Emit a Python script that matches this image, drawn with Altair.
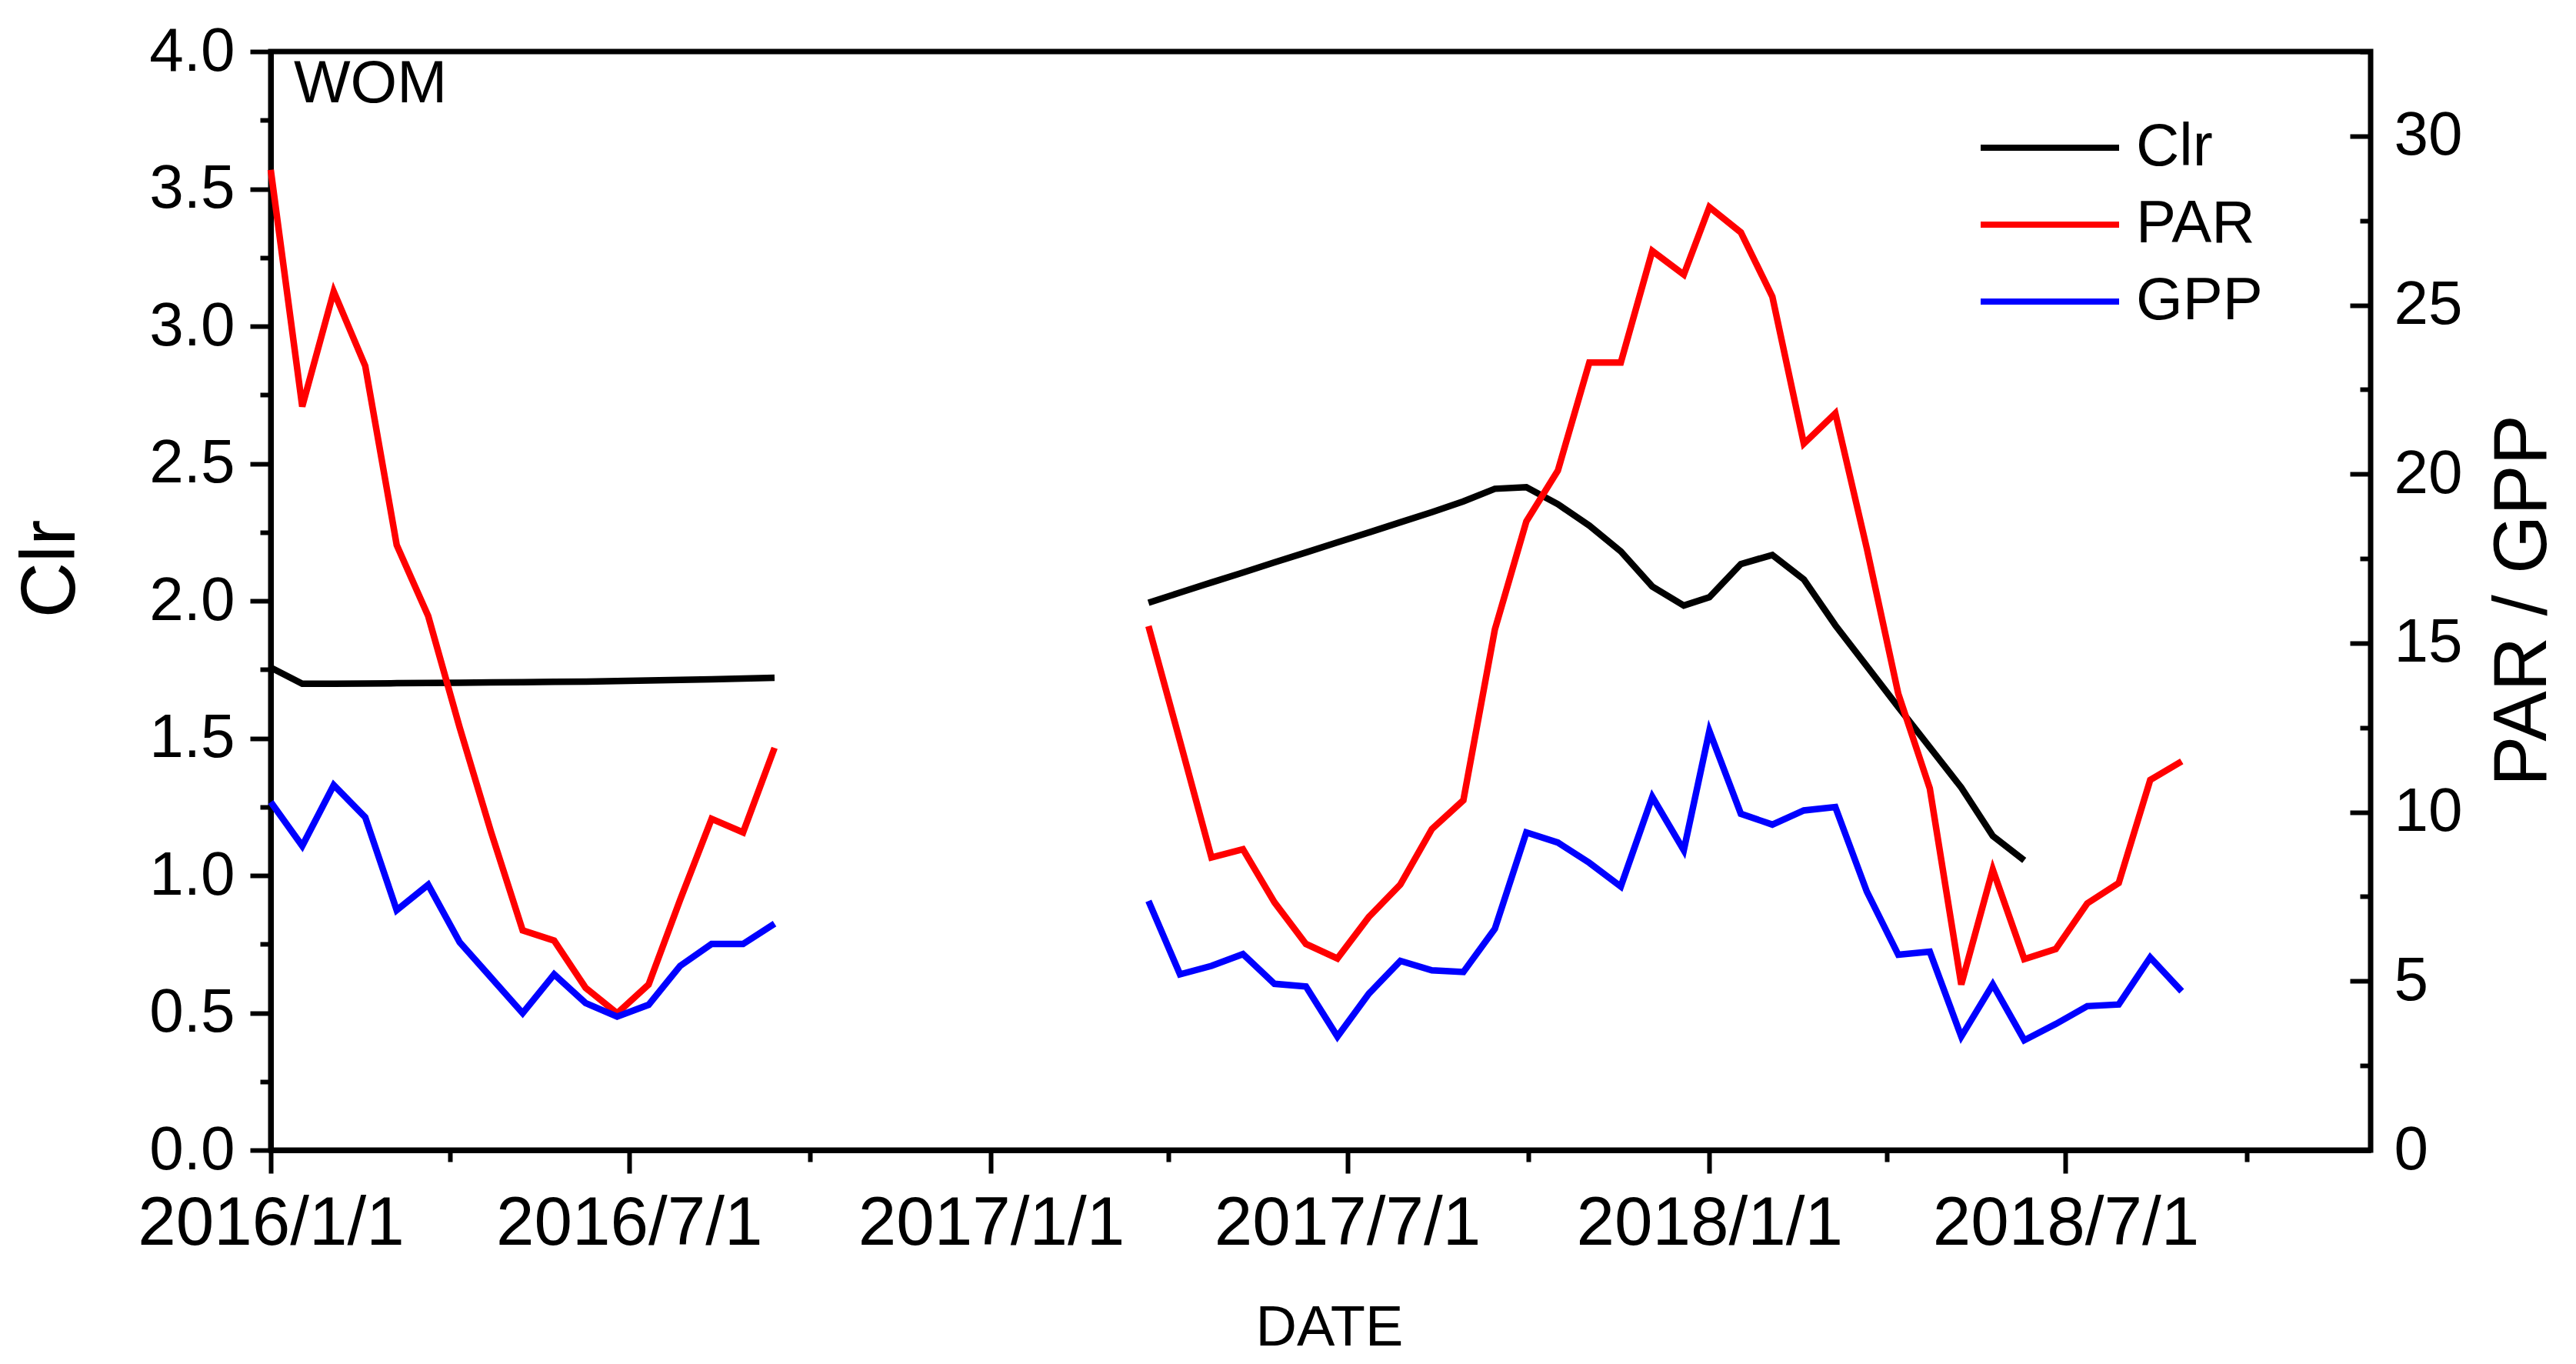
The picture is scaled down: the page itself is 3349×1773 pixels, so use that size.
import altair as alt
import pandas as pd

FONT = "Arial, Liberation Sans, sans-serif"

# ---- dates (16-day composites) ----
dates_2016 = ["2016-01-01", "2016-01-17", "2016-02-02", "2016-02-18", "2016-03-05",
              "2016-03-21", "2016-04-06", "2016-04-22", "2016-05-08", "2016-05-24",
              "2016-06-09", "2016-06-25", "2016-07-11", "2016-07-27", "2016-08-12",
              "2016-08-28", "2016-09-13"]
dates_2017 = ["2017-03-22", "2017-04-07", "2017-04-23", "2017-05-09", "2017-05-25",
              "2017-06-10", "2017-06-26", "2017-07-12", "2017-07-28", "2017-08-13",
              "2017-08-29", "2017-09-14", "2017-09-30", "2017-10-16", "2017-11-01",
              "2017-11-17", "2017-12-03", "2017-12-19"]
dates_2018 = ["2018-01-01", "2018-01-17", "2018-02-02", "2018-02-18", "2018-03-06",
              "2018-03-22", "2018-04-07", "2018-04-23", "2018-05-09", "2018-05-25",
              "2018-06-10", "2018-06-26", "2018-07-12", "2018-07-28", "2018-08-13",
              "2018-08-29"]

# ---- Clr (left axis) ----
clr_2016 = [1.757, 1.698, 1.698, 1.699, 1.700, 1.701, 1.702, 1.703, 1.704, 1.705,
            1.706, 1.708, 1.710, 1.712, 1.714, 1.717, 1.720]
clr_2017 = [1.993, 2.030, 2.067, 2.103, 2.140, 2.176, 2.213, 2.249, 2.286, 2.323,
            2.362, 2.408, 2.414, 2.352, 2.274, 2.180, 2.052, 1.983]
clr_2018 = [2.013, 2.134, 2.167, 2.078, 1.911, 1.762, 1.613, 1.467, 1.320, 1.144, 1.055]

# ---- PAR (right axis) ----
par_2016 = [29.0, 22.0, 25.4, 23.2, 17.9, 15.8, 12.5, 9.4, 6.5, 6.2, 4.8, 4.05, 4.9,
            7.4, 9.8, 9.4, 11.9]
par_2017 = [15.5, 12.1, 8.66, 8.9, 7.33, 6.1, 5.67, 6.9, 7.86, 9.5, 10.35, 15.4, 18.6,
            20.1, 23.3, 23.3, 26.6, 25.9]
par_2018 = [27.9, 27.15, 25.25, 20.9, 21.8, 17.8, 13.5, 10.7, 4.9, 8.3, 5.65, 5.95,
            7.3, 7.9, 10.95, 11.5]

# ---- GPP (right axis) ----
gpp_2016 = [10.3, 9.0, 10.8, 9.85, 7.1, 7.85, 6.15, 5.1, 4.05, 5.2, 4.35, 3.95, 4.3,
            5.45, 6.1, 6.1, 6.7]
gpp_2017 = [7.37, 5.2, 5.45, 5.8, 4.92, 4.84, 3.36, 4.63, 5.6, 5.32, 5.27, 6.55, 9.4,
            9.1, 8.5, 7.8, 10.45, 8.87]
gpp_2018 = [12.4, 9.95, 9.63, 10.05, 10.15, 7.65, 5.78, 5.87, 3.36, 4.9, 3.25, 3.73,
            4.26, 4.31, 5.7, 4.7]

# ---- axis tick positions ----
x_tick_dates = [(2016, 1), (2016, 4), (2016, 7), (2016, 10), (2017, 1), (2017, 4),
                (2017, 7), (2017, 10), (2018, 1), (2018, 4), (2018, 7), (2018, 10)]
left_ticks = [0, 0.25, 0.5, 0.75, 1.0, 1.25, 1.5, 1.75, 2.0, 2.25, 2.5, 2.75, 3.0,
              3.25, 3.5, 3.75, 4.0]
right_ticks = [0, 2.5, 5, 7.5, 10, 12.5, 15, 17.5, 20, 22.5, 25, 27.5, 30, 32.5]


def rows(dates, vals, series, seg):
    return [{"date": d + "T00:00:00", "value": v, "series": series, "seg": seg}
            for d, v in zip(dates, vals)]


left_df = pd.DataFrame(
    rows(dates_2016, clr_2016, "Clr", "a")
    + rows(dates_2017 + dates_2018[:len(clr_2018)], clr_2017 + clr_2018, "Clr", "b")
)
right_df = pd.DataFrame(
    rows(dates_2016, par_2016, "PAR", "a")
    + rows(dates_2017 + dates_2018, par_2017 + par_2018, "PAR", "b")
    + rows(dates_2016, gpp_2016, "GPP", "a")
    + rows(dates_2017 + dates_2018, gpp_2017 + gpp_2018, "GPP", "b")
)

x_axis = alt.Axis(
    title="DATE",
    values=[alt.DateTime(year=y, month=m, date=1) for y, m in x_tick_dates],
    labelExpr="month(datum.value) % 6 == 0 ? timeFormat(datum.value, '%Y/%-m/%-d') : ''",
    tickSize=30, tickWidth=6, tickColor="black",
    tickDash={"condition": {"test": "month(datum.value) % 6 != 0", "value": [15, 100]},
              "value": [100, 0]},
    domainColor="black", domainWidth=7,
    labelFont=FONT, labelFontSize=89, labelColor="black", labelPadding=22,
    labelOverlap=False, labelFlush=False, labelBound=False, labelLimit=2000,
    titleFont=FONT, titleFontSize=74, titleFontWeight="normal", titleColor="black",
    titleX=1376, titleY=253, titleAlign="center", titleBaseline="alphabetic",
    grid=False,
)
x_scale = alt.Scale(domain=[alt.DateTime(year=2016, month=1, date=1),
                            alt.DateTime(year=2018, month=12, date=3)])
x_enc = alt.X("date:T", axis=x_axis, scale=x_scale)

color_enc = alt.Color(
    "series:N",
    scale=alt.Scale(domain=["Clr", "PAR", "GPP"], range=["black", "#ff0000", "#0000ff"]),
    legend=alt.Legend(
        title=None, orient="none", legendX=2264, legendY=76,
        symbolType="M-2,0H2", symbolSize=8100, symbolStrokeWidth=8,
        labelFont=FONT, labelFontSize=78, labelColor="black", labelOffset=63,
        labelLimit=600, rowPadding=12, padding=0,
    ),
)

left_axis = alt.Axis(
    title="Clr", orient="left", values=left_ticks,
    labelExpr="datum.value % 0.5 == 0 ? format(datum.value, '.1f') : ''",
    tickSize=27, tickWidth=6, tickColor="black",
    tickDash={"condition": {"test": "datum.value % 0.5 != 0", "value": [14, 100]},
              "value": [100, 0]},
    domainColor="black", domainWidth=7,
    labelFont=FONT, labelFontSize=80, labelColor="black", labelPadding=20,
    labelFlush=False, labelOverlap=False, labelLimit=2000,
    titleFont=FONT, titleFontSize=100, titleFontWeight="normal", titleColor="black",
    titleAngle=270, titleX=-286, titleY=672, titleAlign="center", titleBaseline="middle",
    grid=False,
)
right_axis = alt.Axis(
    title="PAR / GPP", orient="right", values=right_ticks, offset=-27, domain=False,
    labelExpr="datum.value % 5 == 0 ? format(datum.value, 'd') : ''",
    tickSize=27, tickWidth=6, tickColor="black",
    tickDash={"condition": {"test": "datum.value % 5 != 0", "value": [0, 13, 14, 100]},
              "value": [100, 0]},
    labelFont=FONT, labelFontSize=80, labelColor="black", labelPadding=30,
    labelFlush=False, labelOverlap=False, labelLimit=2000,
    titleFont=FONT, titleFontSize=98, titleFontWeight="normal", titleColor="black",
    titleAngle=270, titleX=225, titleY=713, titleAlign="center", titleBaseline="middle",
    grid=False,
)

left_layer = alt.Chart(left_df).mark_line(strokeWidth=8.5).encode(
    x=x_enc,
    y=alt.Y("value:Q", axis=left_axis, scale=alt.Scale(domain=[0, 4], nice=False, zero=False)),
    color=color_enc,
    detail="seg:N",
)
right_layer = alt.Chart(right_df).mark_line(strokeWidth=8.5).encode(
    x=x_enc,
    y=alt.Y("value:Q", axis=right_axis, scale=alt.Scale(domain=[0, 32.5], nice=False, zero=False)),
    color=color_enc,
    detail="seg:N",
)
label_layer = alt.Chart(pd.DataFrame({"t": ["WOM"]})).mark_text(
    align="left", baseline="alphabetic", fontSize=78, font=FONT, color="black"
).encode(text="t:N", x=alt.value(30), y=alt.value(66))

chart = alt.layer(left_layer, right_layer, label_layer).resolve_scale(
    y="independent"
).properties(
    width=2730, height=1428,
    padding={"left": 344, "top": 59, "right": 250, "bottom": 268},
    autosize=alt.AutoSizeParams(type="none"),
    background="white",
).configure_view(stroke="black", strokeWidth=7)

chart.save("out.html", embed_options={"renderer": "svg", "actions": False})
